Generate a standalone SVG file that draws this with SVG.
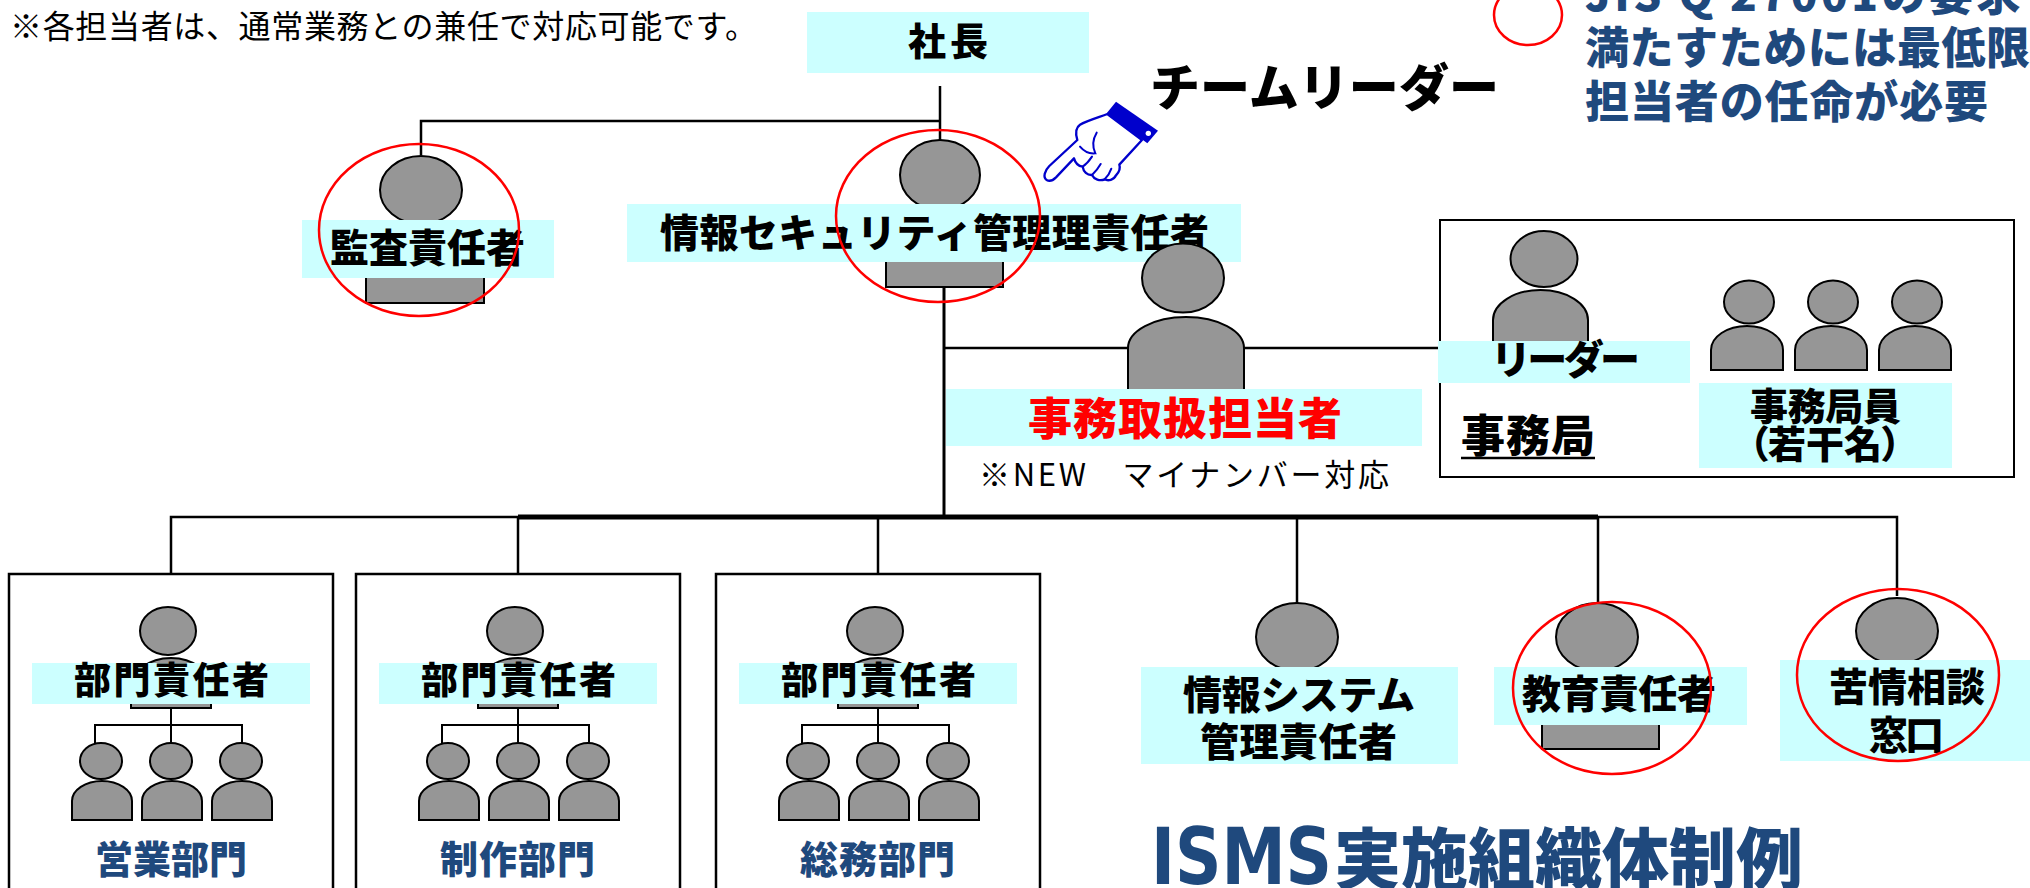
<svg xmlns="http://www.w3.org/2000/svg" width="2030" height="888" viewBox="0 0 2030 888">
  <style>
    text { font-family: "Noto Sans CJK JP", "Noto Sans", sans-serif; }
    .b { font-weight: 900; fill: #000; }
    .n { font-weight: 400; fill: #000; }
    .navy { font-weight: 900; fill: #1F497D; }
    .red { font-weight: 900; fill: #FF0000; }
    .palt { font-feature-settings: "palt"; }
    .latin { font-family: "DejaVu Sans Condensed", "DejaVu Sans", sans-serif; font-stretch: condensed; font-weight: 700; }
    .tag { fill: #CCFFFF; }
    .fig { fill: #969696; stroke: #000; stroke-width: 2; }
    .frame { fill: #FFFFFF; stroke: #000; stroke-width: 2.5; }
    .wire { fill: none; stroke: #000; stroke-width: 2.5; }
    .bus { fill: none; stroke: #000; stroke-width: 5; }
    .mark { fill: none; stroke: #FF0000; stroke-width: 2.5; }
  </style>

  <rect width="2030" height="888" fill="#FFFFFF"/>

  <!-- connectors -->
  <g id="connectors">
    <path class="wire" d="M940,86 V140"/>
    <path class="wire" d="M421,155 V121 H940"/>
    <path class="wire" d="M944,287 V517" style="stroke-width:3"/>
    <path class="wire" d="M944,348 H1440"/>
    <path class="wire" d="M171,574 V517 H518"/>
    <path class="bus" d="M518,517 H1598"/>
    <path class="wire" d="M1598,517 H1897 V596"/>
    <path class="wire" d="M518,517 V574"/>
    <path class="wire" d="M878,517 V574"/>
    <path class="wire" d="M1297,517 V603"/>
    <path class="wire" d="M1598,517 V603"/>
  </g>

  <!-- note -->
  <text id="note" class="n" x="10" y="38" font-size="32" textLength="747">※各担当者は、通常業務との兼任で対応可能です。</text>

  <!-- president -->
  <g id="n-president">
    <rect class="tag" x="807" y="12" width="282" height="61"/>
    <text class="b" x="908" y="55" font-size="38" textLength="80">社長</text>
  </g>

  <!-- auditor -->
  <g id="n-auditor">
    <ellipse class="fig" cx="421" cy="190" rx="41" ry="34"/>
    <path class="fig" d="M366,303 V256 A59,30 0 0 1 484,256 V303 Z"/>
    <rect class="tag" x="302" y="220" width="252" height="58"/>
    <text class="b" x="330" y="262" font-size="39" textLength="195">監査責任者</text>
  </g>

  <!-- information security manager -->
  <g id="n-ismgr">
    <ellipse class="fig" cx="940" cy="175" rx="40" ry="35"/>
    <path class="fig" d="M886,287 V243 A58.5,30 0 0 1 1003,243 V287 Z"/>
    <rect class="tag" x="627" y="204" width="614" height="58"/>
    <text class="b" x="660" y="247" font-size="39" textLength="549">情報セキュリティ管理理責任者</text>
  </g>

  <!-- team leader pointer -->
  <g id="n-pointer">
    <g transform="translate(1030 90) scale(0.3333)">
      <path d="M232,72 C205,82 170,92 150,104 C138,112 136,130 142,150 L58,228 C44,242 38,262 50,270 C60,276 70,270 78,262 L132,205 C136,220 146,228 158,230 C160,245 172,256 186,255 C192,268 210,274 224,268 C234,274 252,270 258,256 C266,248 272,236 268,224 L336,150 Z" fill="#FFFFFF" stroke="#0000CC" stroke-width="7" stroke-linejoin="round"/>
      <path d="M158,230 C170,222 178,212 186,200 M186,255 C196,245 205,235 212,222 M224,268 C234,258 240,248 244,236 M200,128 C188,148 186,168 196,190 C180,192 162,184 150,170" fill="none" stroke="#0000CC" stroke-width="6" stroke-linecap="round"/>
      <path d="M230,70 L258,35 L384,122 L352,160 Z" fill="#0000CC"/>
      <circle cx="355" cy="130" r="8" fill="#FFFFFF"/>
    </g>
    <text class="b" x="1150" y="106" font-size="50" textLength="349">チームリーダー</text>
  </g>

  <!-- requirement note -->
  <g id="n-requirement">
    <text class="navy" x="1585" y="11" font-size="44" textLength="483">JIS Q 27001の要求を</text>
    <text class="navy" x="1585" y="64" font-size="44" textLength="445">満たすためには最低限</text>
    <text class="navy" x="1585" y="118" font-size="44" textLength="403">担当者の任命が必要</text>
  </g>

  <!-- personal number clerk -->
  <g id="n-clerk">
    <ellipse class="fig" cx="1183" cy="278" rx="41" ry="34.5"/>
    <path class="fig" d="M1128,395 V348 A58,31 0 0 1 1244,348 V395 Z"/>
    <rect class="tag" x="946" y="389" width="476" height="57"/>
    <text class="red" x="1028" y="435" font-size="44" textLength="314">事務取扱担当者</text>
    <text class="n" x="979" y="486" font-size="31" textLength="410">※NEW　マイナンバー対応</text>
  </g>

  <!-- secretariat -->
  <g id="n-secretariat">
    <rect x="1440" y="220" width="574" height="257" fill="none" stroke="#000" stroke-width="2"/>
    <ellipse class="fig" cx="1544" cy="259" rx="33.5" ry="28"/>
    <path class="fig" d="M1493,345 V320 A47.5,30 0 0 1 1588,320 V345 Z"/>
    <rect class="tag" x="1438" y="341" width="252" height="42"/>
    <text class="b" x="1491" y="374" font-size="40" textLength="149">リーダー</text>
    <text class="b" x="1461" y="452" font-size="44" textLength="134">事務局</text>
    <line x1="1461" y1="458" x2="1595" y2="458" stroke="#000" stroke-width="2.5"/>
    <ellipse class="fig" cx="1749" cy="302" rx="25" ry="21.5"/>
    <ellipse class="fig" cx="1833" cy="302" rx="25" ry="21.5"/>
    <ellipse class="fig" cx="1917" cy="302" rx="25" ry="21.5"/>
    <path class="fig" d="M1711,370 V350 A36,24 0 0 1 1783,350 V370 Z"/>
    <path class="fig" d="M1795,370 V350 A36,24 0 0 1 1867,350 V370 Z"/>
    <path class="fig" d="M1879,370 V350 A36,24 0 0 1 1951,350 V370 Z"/>
    <rect class="tag" x="1699" y="383" width="253" height="85"/>
    <text class="b" x="1750" y="420" font-size="38" textLength="151">事務局員</text>
    <text class="b palt" x="1825" y="458" font-size="38" text-anchor="middle">（若干名）</text>
  </g>

  <!-- departments -->
  <g id="n-sales">
    <rect class="frame" x="9" y="574" width="324" height="330"/>
    <path class="wire" d="M171,708 V743 M95,744 V725 H242 V743" style="stroke-width:2"/>
    <ellipse class="fig" cx="168" cy="631" rx="28" ry="24"/>
    <path class="fig" d="M131,708 V688 A40,30 0 0 1 211,688 V708 Z"/>
    <rect class="tag" x="32" y="663" width="278" height="41"/>
    <text class="b" x="74" y="694" font-size="37" textLength="195">部門責任者</text>
    <ellipse class="fig" cx="101" cy="761" rx="21" ry="18"/>
    <ellipse class="fig" cx="171" cy="761" rx="21" ry="18"/>
    <ellipse class="fig" cx="241" cy="761" rx="21" ry="18"/>
    <path class="fig" d="M72,820 V801 A30,20 0 0 1 132,801 V820 Z"/>
    <path class="fig" d="M142,820 V801 A30,20 0 0 1 202,801 V820 Z"/>
    <path class="fig" d="M212,820 V801 A30,20 0 0 1 272,801 V820 Z"/>
    <text class="navy" x="95" y="873" font-size="38" textLength="152">営業部門</text>
  </g>

  <g id="n-production" transform="translate(347 0)">
    <rect class="frame" x="9" y="574" width="324" height="330"/>
    <path class="wire" d="M171,708 V743 M95,744 V725 H242 V743" style="stroke-width:2"/>
    <ellipse class="fig" cx="168" cy="631" rx="28" ry="24"/>
    <path class="fig" d="M131,708 V688 A40,30 0 0 1 211,688 V708 Z"/>
    <rect class="tag" x="32" y="663" width="278" height="41"/>
    <text class="b" x="74" y="694" font-size="37" textLength="195">部門責任者</text>
    <ellipse class="fig" cx="101" cy="761" rx="21" ry="18"/>
    <ellipse class="fig" cx="171" cy="761" rx="21" ry="18"/>
    <ellipse class="fig" cx="241" cy="761" rx="21" ry="18"/>
    <path class="fig" d="M72,820 V801 A30,20 0 0 1 132,801 V820 Z"/>
    <path class="fig" d="M142,820 V801 A30,20 0 0 1 202,801 V820 Z"/>
    <path class="fig" d="M212,820 V801 A30,20 0 0 1 272,801 V820 Z"/>
    <text class="navy" x="93" y="873" font-size="38" textLength="155">制作部門</text>
  </g>

  <g id="n-general" transform="translate(707 0)">
    <rect class="frame" x="9" y="574" width="324" height="330"/>
    <path class="wire" d="M171,708 V743 M95,744 V725 H242 V743" style="stroke-width:2"/>
    <ellipse class="fig" cx="168" cy="631" rx="28" ry="24"/>
    <path class="fig" d="M131,708 V688 A40,30 0 0 1 211,688 V708 Z"/>
    <rect class="tag" x="32" y="663" width="278" height="41"/>
    <text class="b" x="74" y="694" font-size="37" textLength="195">部門責任者</text>
    <ellipse class="fig" cx="101" cy="761" rx="21" ry="18"/>
    <ellipse class="fig" cx="171" cy="761" rx="21" ry="18"/>
    <ellipse class="fig" cx="241" cy="761" rx="21" ry="18"/>
    <path class="fig" d="M72,820 V801 A30,20 0 0 1 132,801 V820 Z"/>
    <path class="fig" d="M142,820 V801 A30,20 0 0 1 202,801 V820 Z"/>
    <path class="fig" d="M212,820 V801 A30,20 0 0 1 272,801 V820 Z"/>
    <text class="navy" x="93" y="873" font-size="38" textLength="155">総務部門</text>
  </g>

  <!-- information system manager -->
  <g id="n-itsys">
    <ellipse class="fig" cx="1297" cy="637" rx="41" ry="34"/>
    <path class="fig" d="M1239,760 V704 A58,30 0 0 1 1355,704 V760 Z"/>
    <rect class="tag" x="1141" y="667" width="317" height="97"/>
    <text class="b" x="1183" y="709" font-size="39" textLength="232">情報システム</text>
    <text class="b" x="1200" y="756" font-size="39" textLength="197">管理責任者</text>
  </g>

  <!-- education manager -->
  <g id="n-education">
    <ellipse class="fig" cx="1597" cy="637" rx="41" ry="34"/>
    <path class="fig" d="M1542,749 V704 A58.5,30 0 0 1 1659,704 V749 Z"/>
    <rect class="tag" x="1494" y="667" width="253" height="58"/>
    <text class="b" x="1522" y="708" font-size="39" textLength="194">教育責任者</text>
  </g>

  <!-- complaint desk -->
  <g id="n-complaint">
    <ellipse class="fig" cx="1897" cy="631" rx="41" ry="33"/>
    <path class="fig" d="M1839,755 V700 A58,30 0 0 1 1955,700 V755 Z"/>
    <rect class="tag" x="1780" y="660" width="260" height="101"/>
    <text class="b" x="1829" y="701" font-size="39" textLength="156">苦情相談</text>
    <text class="b" x="1869" y="749" font-size="39" textLength="75">窓口</text>
  </g>

  <!-- title -->
  <g id="title">
    <text class="navy latin" x="1151" y="884" font-size="78" textLength="181" lengthAdjust="spacingAndGlyphs">ISMS</text>
    <text class="navy" x="1334" y="884" font-size="67" textLength="469">実施組織体制例</text>
  </g>

  <!-- required roles -->
  <g id="marks">
    <ellipse class="mark" cx="419" cy="230" rx="100" ry="86"/>
    <ellipse class="mark" cx="938" cy="216" rx="102" ry="86"/>
    <ellipse class="mark" cx="1612" cy="688" rx="99" ry="86"/>
    <ellipse class="mark" cx="1898" cy="675" rx="101" ry="86"/>
    <ellipse class="mark" cx="1528" cy="15" rx="34" ry="30"/>
  </g>
</svg>
